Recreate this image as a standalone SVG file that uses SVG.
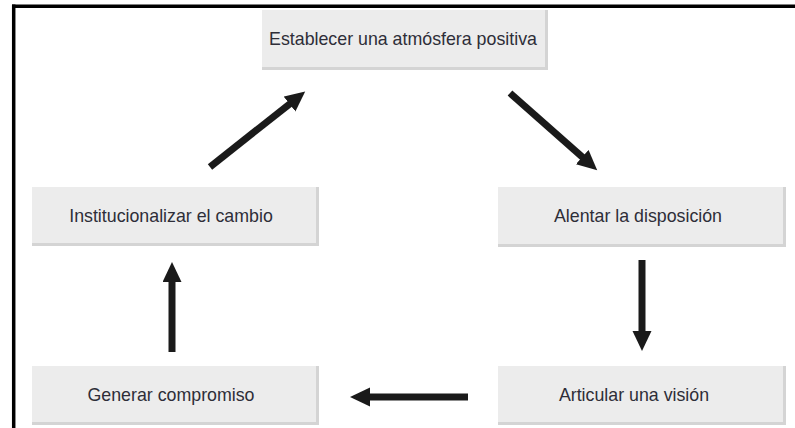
<svg xmlns="http://www.w3.org/2000/svg" width="795" height="428" viewBox="0 0 795 428">
<style>
.shadow{fill:#d4d4d4}
.face{fill:#ececec}
.lbl{font-family:"Liberation Sans",Arial,sans-serif;font-size:17.8px;fill:#2e2e38;text-anchor:middle}
.conn{stroke:#1a1a1a;stroke-width:7;fill:none;marker-end:url(#head)}
.frame{stroke:#000;stroke-width:3.5;fill:none}
</style>
<defs>
<marker id="head" markerUnits="userSpaceOnUse" markerWidth="22" markerHeight="20" refX="1" refY="9.5" orient="auto" viewBox="0 0 22 20">
<path d="M0,0 L20,9.5 L0,19 z" fill="#1a1a1a"/>
</marker>
</defs>
<rect width="795" height="428" fill="#fff"/>
<g id="frame">
<line class="frame" x1="12" y1="6.3" x2="795" y2="6.3"/>
<line class="frame" x1="13.7" y1="4.5" x2="13.7" y2="428"/>
</g>
<g id="n1">
<rect class="shadow" x="262" y="10" width="286" height="60"/>
<rect class="face" x="262" y="10" width="283" height="57"/>
<text class="lbl" x="403" y="45">Establecer una atmósfera positiva</text>
</g>
<g id="n2">
<rect class="shadow" x="32" y="187" width="287" height="59"/>
<rect class="face" x="32" y="187" width="284" height="56"/>
<text class="lbl" x="171" y="221.5">Institucionalizar el cambio</text>
</g>
<g id="n3">
<rect class="shadow" x="498" y="187" width="288" height="60"/>
<rect class="face" x="498" y="187" width="285" height="57"/>
<text class="lbl" x="638" y="221.5">Alentar la disposición</text>
</g>
<g id="n4">
<rect class="shadow" x="32" y="366" width="287" height="59"/>
<rect class="face" x="32" y="366" width="284" height="56"/>
<text class="lbl" x="171" y="401">Generar compromiso</text>
</g>
<g id="n5">
<rect class="shadow" x="498" y="366" width="288" height="59"/>
<rect class="face" x="498" y="366" width="285" height="56"/>
<text class="lbl" x="634" y="401">Articular una visión</text>
</g>
<g id="connectors">
<line class="conn" x1="210" y1="167" x2="290.3" y2="103.4"/>
<line class="conn" x1="510" y1="93" x2="583" y2="157.7"/>
<line class="conn" x1="642" y1="260" x2="642" y2="332"/>
<line class="conn" x1="468" y1="397" x2="369" y2="397"/>
<line class="conn" x1="172" y1="352" x2="172" y2="281"/>
</g>
</svg>
